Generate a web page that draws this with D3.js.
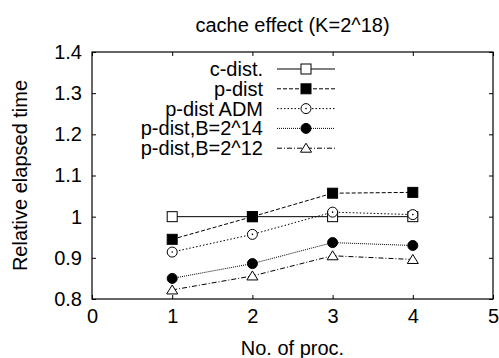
<!DOCTYPE html>
<html>
<head>
<meta charset="utf-8">
<script src="https://cdn.jsdelivr.net/npm/d3@7"></script>
<style>
  body { margin: 0; background: #fff; }
  text { font-family: "Liberation Sans", Arial, sans-serif; font-size: 20px; fill: #000; }
</style>
</head>
<body>
<svg id="chart"></svg>
<script>
// data
const procs = [1, 2, 3, 4];
const cDist = [1.0, 1.0, 1.0, 1.0];
const pDist = [0.945, 1.0, 1.057, 1.059];
const pDistAdm = [0.914, 0.957, 1.011, 1.005];
const pDistB14 = [0.85, 0.886, 0.937, 0.93];
const pDistB12 = [0.822, 0.856, 0.905, 0.896];
const seriesNames = ["c-dist.", "p-dist", "p-dist ADM", "p-dist,B=2^14", "p-dist,B=2^12"];
const xTicks = [0, 1, 2, 3, 4, 5];
const yTicks = [0.8, 0.9, 1, 1.1, 1.2, 1.3, 1.4];

const series = [
  { name: seriesNames[0], values: cDist, dash: null, marker: "openSquare" },
  { name: seriesNames[1], values: pDist, dash: "4,2", marker: "filledSquare" },
  { name: seriesNames[2], values: pDistAdm, dash: "1.5,2", marker: "openCircle" },
  { name: seriesNames[3], values: pDistB14, dash: "1,1", marker: "filledCircle" },
  { name: seriesNames[4], values: pDistB12, dash: "5,2,1,2", marker: "openTriangle" },
];

const width = 499, height = 358;
const margin = { top: 52, right: 6, bottom: 59, left: 92 };
const innerW = width - margin.left - margin.right;
const innerH = height - margin.top - margin.bottom;

const svg = d3.select("#chart").attr("width", width).attr("height", height);
const g = svg.append("g").attr("transform", `translate(${margin.left},${margin.top})`);

const x = d3.scaleLinear().domain([0, 5]).range([0, innerW]);
const y = d3.scaleLinear().domain([0.8, 1.4]).range([innerH, 0]);

// axes: labels outside, ticks inward and mirrored
const tickLen = 4;
g.append("g")
  .attr("transform", `translate(0,${innerH})`)
  .call(d3.axisBottom(x).tickValues(xTicks).tickFormat(d3.format("d")).tickSize(-tickLen).tickPadding(10))
  .call(a => a.select(".domain").remove());
g.append("g")
  .call(d3.axisTop(x).tickValues(xTicks).tickFormat("").tickSize(-tickLen))
  .call(a => a.select(".domain").remove());
g.append("g")
  .call(d3.axisLeft(y).tickValues(yTicks).tickFormat(d => d === 1 ? "1" : d3.format(".1f")(d)).tickSize(-tickLen).tickPadding(10))
  .call(a => a.select(".domain").remove());
g.append("g")
  .attr("transform", `translate(${innerW},0)`)
  .call(d3.axisRight(y).tickValues(yTicks).tickFormat("").tickSize(-tickLen))
  .call(a => a.select(".domain").remove());

g.selectAll(".tick text").style("font-size", "20px").style("font-family", "Liberation Sans, Arial, sans-serif");
g.selectAll(".tick line").attr("stroke", "#000");

g.append("rect")
  .attr("width", innerW).attr("height", innerH)
  .attr("fill", "none").attr("stroke", "#000").attr("stroke-width", 1.2);

// titles
svg.append("text")
  .attr("x", margin.left + innerW / 2).attr("y", 32)
  .attr("text-anchor", "middle")
  .text("cache effect (K=2^18)");
svg.append("text")
  .attr("x", margin.left + innerW / 2).attr("y", 355)
  .attr("text-anchor", "middle")
  .text("No. of proc.");
svg.append("text")
  .attr("transform", `translate(27,${margin.top + innerH / 2}) rotate(-90)`)
  .attr("text-anchor", "middle")
  .text("Relative elapsed time");

function drawMarker(sel, type) {
  const s = 5;
  if (type === "openSquare" || type === "filledSquare") {
    sel.append("rect").attr("x", -s).attr("y", -s).attr("width", 2 * s).attr("height", 2 * s)
      .attr("fill", type === "filledSquare" ? "#000" : "#fff").attr("stroke", "#000").attr("stroke-width", 1);
  } else if (type === "openCircle" || type === "filledCircle") {
    sel.append("circle").attr("r", s)
      .attr("fill", type === "filledCircle" ? "#000" : "#fff").attr("stroke", "#000").attr("stroke-width", 1);
    if (type === "openCircle") sel.append("circle").attr("r", 0.8).attr("fill", "#000");
  } else if (type === "openTriangle") {
    sel.append("path").attr("d", `M0,${-s}L${s + 0.5},${s - 1}L${-s - 0.5},${s - 1}Z`)
      .attr("fill", "#fff").attr("stroke", "#000").attr("stroke-width", 1);
  }
}

const line = d3.line().x((d, i) => x(procs[i])).y(d => y(d));

series.forEach(s => {
  g.append("path")
    .datum(s.values)
    .attr("d", line)
    .attr("fill", "none")
    .attr("stroke", "#000")
    .attr("stroke-width", 1)
    .attr("stroke-dasharray", s.dash);
});
series.forEach(s => {
  s.values.forEach((v, i) => {
    const m = g.append("g").attr("transform", `translate(${x(procs[i])},${y(v)})`);
    drawMarker(m, s.marker);
  });
});

// legend
const legend = svg.append("g");
series.forEach((s, i) => {
  const ly = 69 + i * 19.8;
  legend.append("text")
    .attr("x", 263).attr("y", ly).attr("dy", "0.35em")
    .attr("text-anchor", "end")
    .text(s.name);
  legend.append("line")
    .attr("x1", 277).attr("x2", 335).attr("y1", ly).attr("y2", ly)
    .attr("stroke", "#000").attr("stroke-width", 1)
    .attr("stroke-dasharray", s.dash);
  const m = legend.append("g").attr("transform", `translate(306,${ly})`);
  drawMarker(m, s.marker);
});
</script>
</body>
</html>
